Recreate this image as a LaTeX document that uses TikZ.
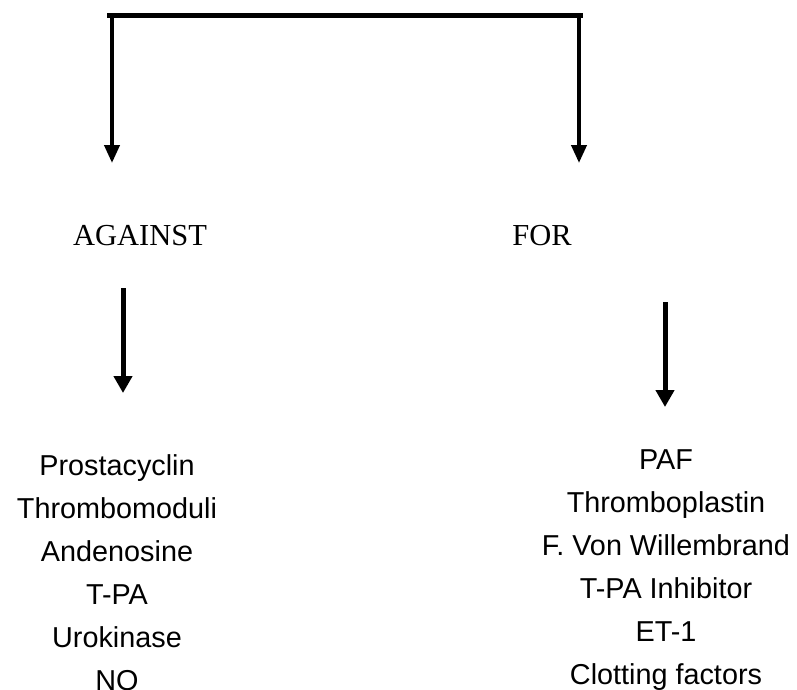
\documentclass[tikz,border=0pt]{standalone}
\usepackage{fontspec}
\setmainfont{Liberation Serif}
\newfontfamily\listfont{Liberation Sans}
\usetikzlibrary{arrows.meta, positioning}

\begin{document}
\begin{tikzpicture}[
  x=1pt, y=-1pt,
  headlbl/.style={font=\fontsize{30.5}{36}\selectfont, anchor=base, inner sep=0pt},
  listlbl/.style={font=\listfont\fontsize{28.8}{43}\selectfont, align=center,
                  anchor=base, inner sep=0pt},
  bar/.style={line width=5pt},
  arrow/.style={-{Triangle[length=18pt, width=15pt]}, line width=4pt},
  bigarrow/.style={-{Triangle[length=17pt, width=18pt]}, line width=5pt}
]
\useasboundingbox (0,0) rectangle (797,689);

% top bracket
\coordinate (barL) at (107,15);
\coordinate (barR) at (583,15);
\coordinate (splitL) at (112,15);
\coordinate (splitR) at (579,15);
\coordinate (tipL) at (112,163);
\coordinate (tipR) at (579,163);
\draw[bar] (barL) -- (barR);
\draw[arrow] (splitL) -- (tipL);
\draw[arrow] (splitR) -- (tipR);

% headings
\node[headlbl] (against) at (140,245) {AGAINST};
\node[headlbl] (for) at (542,245) {FOR};

% second arrows
\coordinate (againstTop) at (123,288);
\coordinate (againstTip) at (123,393);
\coordinate (forTop) at (665,302);
\coordinate (forTip) at (665,407);
\draw[bigarrow] (againstTop) -- (againstTip);
\draw[bigarrow] (forTop) -- (forTip);

% lists (base = last line)
\node[listlbl] (againstlist) at (117,690)
  {Prostacyclin\\Thrombomoduli\\Andenosine\\T-PA\\Urokinase\\NO};
\node[listlbl] (forlist) at (666,684)
  {PAF\\Thromboplastin\\F. Von Willembrand\\T-PA Inhibitor\\ET-1\\Clotting factors};
\end{tikzpicture}
\end{document}
